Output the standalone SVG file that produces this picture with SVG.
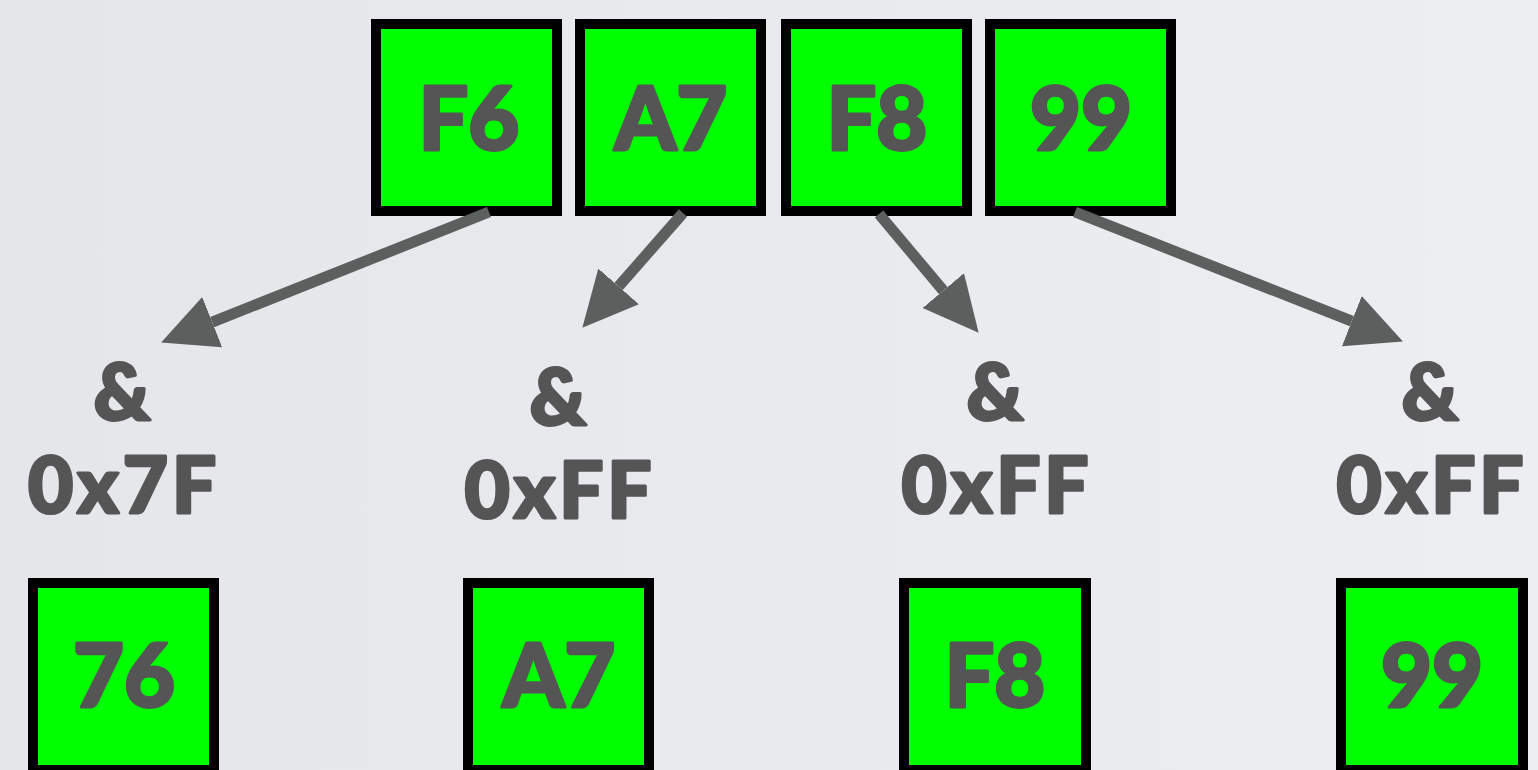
<svg xmlns="http://www.w3.org/2000/svg" width="1538" height="770" viewBox="0 0 1538 770">
  <defs>
    <linearGradient id="bg" x1="0" y1="0" x2="1" y2="0">
      <stop offset="0" stop-color="#e4e6e9"/>
      <stop offset="1" stop-color="#eceef1"/>
    </linearGradient>
    <marker id="head" markerUnits="userSpaceOnUse" markerWidth="56" markerHeight="56" viewBox="0 -27 55 54" refX="0" refY="0" orient="auto">
      <path d="M0,-26.5 L54,0 L0,26.5 Z" fill="#5b5f5d"/>
    </marker>
    <style>
      .box { fill: #00ff00; stroke: #000; stroke-width: 10; }
      .val { font-family: Lato, "Liberation Sans", sans-serif; font-weight: 900; font-size: 88px; fill: #555555; stroke: #555555; stroke-width: 3; stroke-linejoin: round; text-anchor: middle; }
      .op { font-family: Lato, "Liberation Sans", sans-serif; font-weight: 900; font-size: 78px; letter-spacing: 4px; fill: #555555; stroke: #555555; stroke-width: 3; stroke-linejoin: round; text-anchor: middle; }
      .arrow { stroke: #5b5f5d; stroke-width: 11; fill: none; marker-end: url(#head); }
    </style>
  </defs>

  <rect width="1538" height="770" fill="url(#bg)"/>

  <!-- input bytes -->
  <g id="in-f6"><rect class="box" x="376" y="24" width="181" height="187"/><text class="val" x="469" y="150">F6</text></g>
  <g id="in-a7"><rect class="box" x="580" y="24" width="181" height="187"/><text class="val" x="671" y="150">A7</text></g>
  <g id="in-f8"><rect class="box" x="786" y="24" width="181" height="187"/><text class="val" x="877" y="150">F8</text></g>
  <g id="in-99"><rect class="box" x="990" y="24" width="181" height="187"/><text class="val" x="1081" y="150">99</text></g>

  <!-- masks (letter-spacing adds trailing space, so x is nudged right by half of it) -->
  <g id="mask-1"><text class="op" x="124" y="420">&amp;</text><text class="op" x="124" y="513">0x7F</text></g>
  <g id="mask-2"><text class="op" x="560" y="425">&amp;</text><text class="op" x="560" y="518">0xFF</text></g>
  <g id="mask-3"><text class="op" x="997" y="420">&amp;</text><text class="op" x="997" y="513">0xFF</text></g>
  <g id="mask-4"><text class="op" x="1432" y="420">&amp;</text><text class="op" x="1432" y="513">0xFF</text></g>

  <!-- results -->
  <g id="out-76"><rect class="box" x="33" y="583" width="181" height="187"/><text class="val" x="124" y="707">76</text></g>
  <g id="out-a7"><rect class="box" x="468" y="583" width="181" height="187"/><text class="val" x="559" y="707">A7</text></g>
  <g id="out-f8"><rect class="box" x="904" y="583" width="182" height="187"/><text class="val" x="995" y="707">F8</text></g>
  <g id="out-99"><rect class="box" x="1341" y="583" width="182" height="187"/><text class="val" x="1432" y="707">99</text></g>

  <!-- connectors -->
  <g id="connectors">
    <line class="arrow" x1="489" y1="212" x2="212.2" y2="322.1"/>
    <line class="arrow" x1="683" y1="213" x2="618.6" y2="286.4"/>
    <line class="arrow" x1="879" y1="214" x2="943.3" y2="290.6"/>
    <line class="arrow" x1="1075" y1="212" x2="1351.8" y2="321.2"/>
  </g>
</svg>
